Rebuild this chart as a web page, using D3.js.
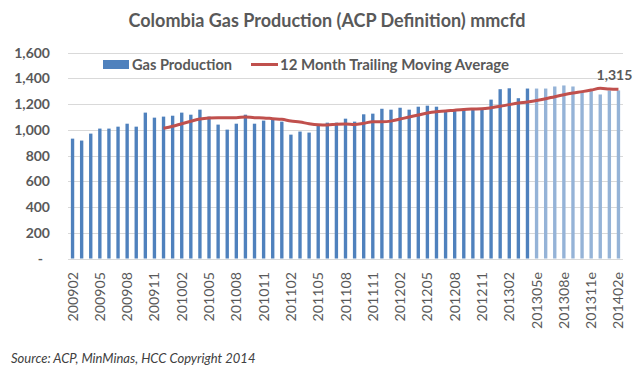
<!DOCTYPE html>
<html lang="en">
<head>
<meta charset="utf-8">
<title>Colombia Gas Production</title>
<script src="https://d3js.org/d3.v7.min.js"></script>
<style>
  body { margin: 0; background: #fff; }
  text { font-family: "Lato", "Liberation Sans", sans-serif; fill: #595959; }
</style>
</head>
<body>
<svg id="chart" width="639" height="377"></svg>
<script>
// months 200902 .. 201402e (estimated from 201305)
var months = []
var yr = 2009, mo = 2
for (var i = 0; i < 61; i++) {
  var lab = yr + (mo < 10 ? "0" : "") + mo
  if (yr * 100 + mo >= 201305) lab += "e"
  months.push(lab)
  mo++; if (mo > 12) { mo = 1; yr++ }
}

// gas production, mmcfd
var production = [
  931, 916, 970, 1009, 1009, 1024, 1047, 1024, 1133, 1094, 1102,
  1109, 1133, 1117, 1156, 1102, 1040, 1001, 1047, 1117, 1047, 1071, 1078,
  1063, 962, 986, 978, 1032, 1055, 1055, 1086, 1063, 1120, 1125, 1163,
  1156, 1171, 1156, 1179, 1187, 1179, 1145, 1150, 1163, 1163, 1163, 1234,
  1315, 1322, 1245, 1320,
  1320, 1320, 1336, 1344, 1336, 1292, 1300, 1274, 1305, 1305
]
var estimatedFrom = "201305e"

// 12 month trailing moving average (null before it starts)
var movingAvg = [
  null, null, null, null, null, null, null, null, null, null, 1011,
  1027, 1047, 1066, 1084, 1092, 1094, 1094, 1094, 1100, 1093, 1092, 1086,
  1081, 1068, 1060, 1047, 1039, 1037, 1043, 1045, 1040, 1050, 1062, 1062,
  1067, 1083, 1099, 1114, 1130, 1140, 1145, 1152, 1158, 1161, 1163, 1171,
  1182, 1195, 1207, 1216,
  1227, 1241, 1257, 1272, 1285, 1296, 1308, 1322, 1317, 1315
]

var yTicks = [0, 200, 400, 600, 800, 1000, 1200, 1400, 1600]

var svg = d3.select("#chart")
var plotLeft = 68, plotRight = 623, plotTop = 52.5, plotBottom = 258.5

var x = d3.scaleBand()
  .domain(months)
  .range([plotLeft, plotRight])
  .paddingInner(0.63)
  .paddingOuter(0.315)

var y = d3.scaleLinear().domain([0, 1600]).range([plotBottom, plotTop])

// title
svg.append("text")
  .attr("x", 327).attr("y", 27)
  .attr("text-anchor", "middle")
  .style("font-size", "18px").style("font-weight", "bold")
  .text("Colombia Gas Production (ACP Definition) mmcfd")

// gridlines
svg.append("g").selectAll("line")
  .data(yTicks)
  .join("line")
  .attr("x1", plotLeft).attr("x2", plotRight)
  .attr("y1", d => Math.round(y(d)) + 0.5).attr("y2", d => Math.round(y(d)) + 0.5)
  .attr("stroke", "#d9d9d9").attr("stroke-width", 1)

// y axis labels
var fmt = d3.format(",")
svg.append("g").selectAll("text")
  .data(yTicks)
  .join("text")
  .attr("x", d => d === 0 ? 43 : 50)
  .attr("y", d => y(d) + 5)
  .attr("text-anchor", "end")
  .style("font-size", "14px").style("font-weight", "bold")
  .text(d => d === 0 ? "-" : fmt(d))

// bars
var estIdx = months.indexOf(estimatedFrom)
svg.append("g").selectAll("rect")
  .data(production)
  .join("rect")
  .attr("x", (d, i) => x(months[i]))
  .attr("width", x.bandwidth())
  .attr("y", d => y(d))
  .attr("height", d => y(0) - y(d))
  .attr("fill", (d, i) => i >= estIdx ? "#95b3d7" : "#4f81bd")

// moving average line
var line = d3.line()
  .defined(d => d != null)
  .x((d, i) => x(months[i]) + x.bandwidth() / 2)
  .y(d => y(d))
  .curve(d3.curveMonotoneX)

svg.append("path")
  .datum(movingAvg)
  .attr("d", line)
  .attr("fill", "none")
  .attr("stroke", "#c0504d")
  .attr("stroke-width", 3)
  .attr("stroke-linejoin", "round")

// end label
var last = movingAvg.length - 1
svg.append("text")
  .attr("x", x(months[last]) + x.bandwidth() / 2 - 4)
  .attr("y", y(movingAvg[last]) - 9)
  .attr("text-anchor", "middle")
  .style("font-size", "14px").style("font-weight", "bold")
  .text(fmt(movingAvg[last]))

// x labels every 3 months
svg.append("g").selectAll("text")
  .data(months.filter((m, i) => i % 3 === 0))
  .join("text")
  .attr("transform", d => "translate(" + (x(d) + x.bandwidth() / 2 + 5) + ",272) rotate(-90)")
  .attr("text-anchor", "end")
  .style("font-size", "14.2px")
  .text(d => d)

// legend
var lg = svg.append("g")
lg.append("rect").attr("x", 103).attr("y", 60).attr("width", 26).attr("height", 9).attr("fill", "#4f81bd")
lg.append("text").attr("x", 132).attr("y", 69.5)
  .style("font-size", "14.6px").style("font-weight", "bold").text("Gas Production")
lg.append("line").attr("x1", 251).attr("x2", 278).attr("y1", 64.5).attr("y2", 64.5)
  .attr("stroke", "#c0504d").attr("stroke-width", 3)
lg.append("text").attr("x", 280).attr("y", 69.5)
  .style("font-size", "15px").style("font-weight", "bold").text("12 Month Trailing Moving Average")

// source
svg.append("text")
  .attr("x", 11).attr("y", 363)
  .style("font-size", "13px").style("font-style", "italic").style("fill", "#404040")
  .text("Source:  ACP, MinMinas, HCC Copyright 2014")
</script>
</body>
</html>
